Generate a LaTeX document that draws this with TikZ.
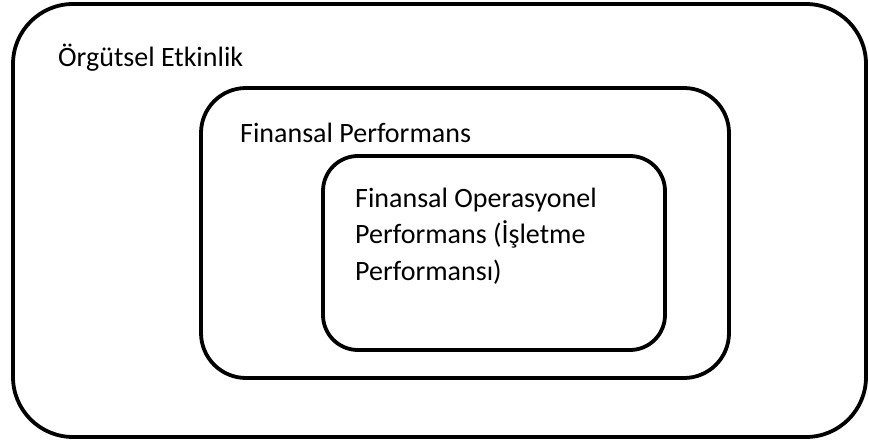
\documentclass[tikz,border=0pt]{standalone}
\usepackage{fontspec}
\setmainfont{Carlito}
\begin{document}
\begin{tikzpicture}[x=1pt,y=-1pt,
  frame/.style={draw=black, line width=3.8pt, rounded corners=#1, inner sep=0pt, outer sep=0pt},
  label/.style={anchor=base west, inner sep=0pt, font=\fontsize{28}{36.5}\selectfont, align=left}]
\useasboundingbox[fill=white] (0,0) rectangle (869,443);
\node[frame=60pt, minimum width=853pt, minimum height=433pt] (outer) at (439.5,220.5) {};
\node[frame=45pt, minimum width=528pt, minimum height=290pt] (middle) at (465,233) {};
\node[frame=35pt, minimum width=342pt, minimum height=194pt] (inner) at (494,253) {};
\node[label] (t1) at (58,67) {Örgütsel Etkinlik};
\node[label] (t2) at (240,143) {Finansal Performans};
\node[label] (t3) at (355,280) {Finansal Operasyonel\\Performans (İşletme\\Performansı)};
\end{tikzpicture}
\end{document}
